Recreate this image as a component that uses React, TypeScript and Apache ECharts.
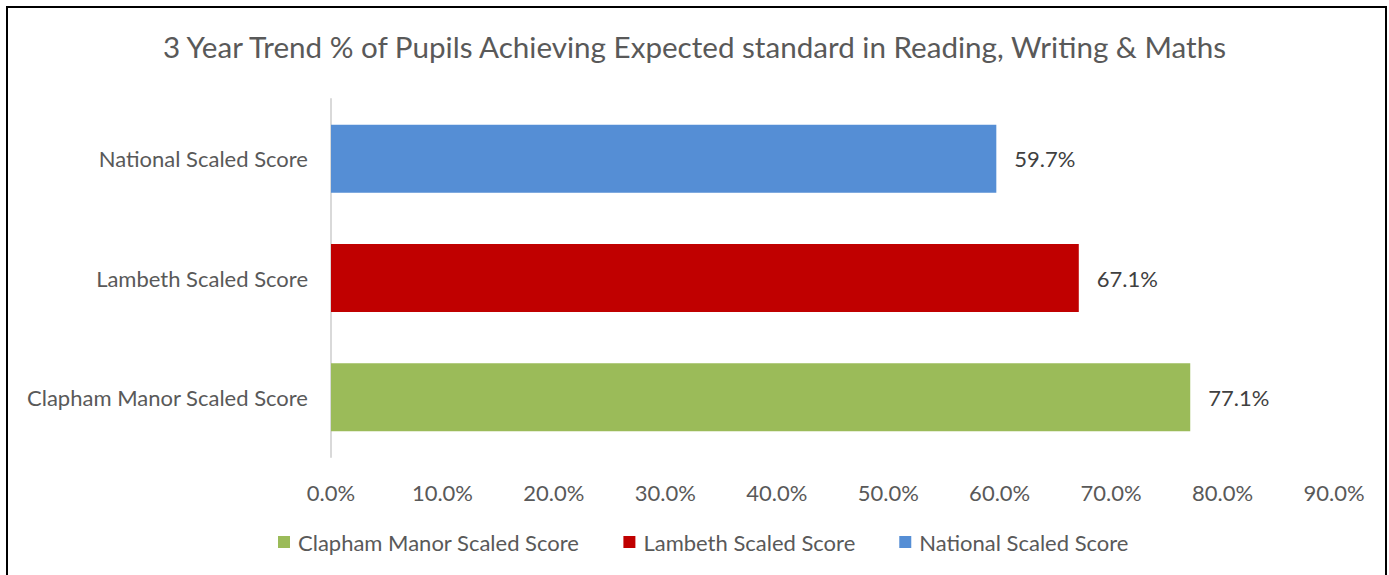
import React, { useEffect, useRef } from "react";
import * as echarts from "echarts";

const categories = ["Clapham Manor Scaled Score", "Lambeth Scaled Score", "National Scaled Score"];
const seriesNames = ["Clapham Manor Scaled Score", "Lambeth Scaled Score", "National Scaled Score"];
const claphamValues = [77.1, null, null];
const lambethValues = [null, 67.1, null];
const nationalValues = [null, null, 59.7];
const colors = ["#9BBB59", "#C00000", "#558ED5"];
const titleText = "3 Year Trend % of Pupils Achieving Expected standard in Reading, Writing & Maths";

const FONT = "Lato, 'Open Sans', sans-serif";
const TXT = "#595959";
const FS = 22;

export default function App() {
  const ref = useRef<HTMLDivElement>(null);
  useEffect(() => {
    if (!ref.current) return;
    const chart = echarts.init(ref.current, null, { renderer: "svg" });
    const values = [claphamValues, lambethValues, nationalValues];
    chart.setOption({
      animation: false,
      backgroundColor: "#ffffff",
      textStyle: { fontFamily: FONT, color: TXT },
      title: {
        text: titleText,
        left: "center",
        top: 26,
        textStyle: { fontFamily: FONT, fontSize: 29.6, fontWeight: "normal", color: TXT },
      },
      graphic: [
        {
          type: "rect",
          shape: { x: 7, y: 7, width: 1379, height: 620 },
          style: { fill: "none", stroke: "#000000", lineWidth: 2 },
          silent: true,
        },
      ],
      legend: {
        bottom: 17,
        left: 273,
        itemWidth: 12,
        itemHeight: 12,
        itemGap: 44,
        icon: "rect",
        data: seriesNames,
        textStyle: { fontFamily: FONT, fontSize: 22, color: TXT, padding: [0, 0, 0, 3] },
      },
      grid: { left: 331, right: 55, top: 99, height: 358, containLabel: false },
      xAxis: {
        type: "value",
        min: 0,
        max: 90,
        interval: 10,
        axisLine: { show: false },
        axisTick: { show: false },
        splitLine: { show: false },
        axisLabel: {
          formatter: (v: number) => v.toFixed(1) + "%",
          fontFamily: FONT,
          fontSize: FS,
          color: TXT,
          margin: 24,
        },
      },
      yAxis: {
        type: "category",
        data: categories,
        axisLine: { show: true, lineStyle: { color: "#D9D9D9", width: 2 } },
        axisTick: { show: false },
        axisLabel: { fontFamily: FONT, fontSize: FS, color: TXT, margin: 23 },
      },
      series: seriesNames.map((name, i) => ({
        name,
        type: "bar",
        stack: "s",
        data: values[i],
        barWidth: 68,
        itemStyle: { color: colors[i] },
        label: {
          show: true,
          position: "right",
          distance: 18,
          formatter: (p: any) => (p.value == null ? "" : Number(p.value).toFixed(1) + "%"),
          fontFamily: FONT,
          fontSize: FS,
          color: "#404040",
        },
      })),
    });
    return () => chart.dispose();
  }, []);
  return (
    <div
      ref={ref}
      style={{ position: "absolute", left: 0, top: 0, width: 1389, height: 575 }}
    />
  );
}
